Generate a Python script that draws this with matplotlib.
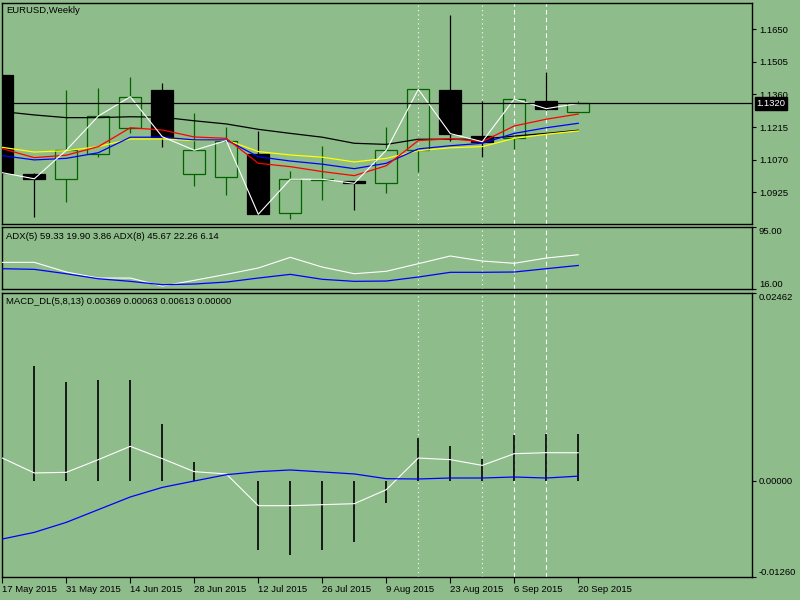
import numpy as np
import matplotlib
matplotlib.use('Agg')
import matplotlib.pyplot as plt
import matplotlib.transforms as mtransforms

bg = '#8fbc8b'
bull = '#006400'

dates = ['17 May 2015', '31 May 2015', '14 Jun 2015', '28 Jun 2015', '12 Jul 2015',
         '26 Jul 2015', '9 Aug 2015', '23 Aug 2015', '6 Sep 2015', '20 Sep 2015']

# weekly candles, bar 0 = 17 May 2015
opens  = [1.1447, 1.1006, 1.0983, 1.1097, 1.1210, 1.1380, 1.1005, 1.0992, 1.1095, 1.0832,
          1.0981, 1.0975, 1.0965, 1.1113, 1.1380, 1.1175, 1.1165, 1.1331, 1.1284]
highs  = [1.1447, 1.1012, 1.1380, 1.1389, 1.1437, 1.1411, 1.1276, 1.1214, 1.1196, 1.1020,
          1.1131, 1.0977, 1.1217, 1.1385, 1.1714, 1.1331, 1.1342, 1.1461, 1.1331]
lows   = [1.1012, 1.0816, 1.0883, 1.1083, 1.1187, 1.1128, 1.0954, 1.0914, 1.0827, 1.0808,
          1.0891, 1.0846, 1.0923, 1.1017, 1.1155, 1.1083, 1.1119, 1.1290, 1.1284]
closes = [1.1012, 1.0985, 1.1112, 1.1264, 1.1350, 1.1172, 1.1112, 1.1155, 1.0827, 1.0983,
          1.0983, 1.0965, 1.1112, 1.1383, 1.1186, 1.1150, 1.1340, 1.1297, 1.1320]

ma_black  = [1.1284, 1.1269, 1.1257, 1.1257, 1.1261, 1.1259, 1.1243, 1.1229, 1.1205, 1.1187,
             1.1170, 1.1143, 1.1138, 1.1161, 1.1161, 1.1162, 1.1175, 1.1187, 1.1201]
ma_red    = [1.1119, 1.1079, 1.1090, 1.1128, 1.1212, 1.1202, 1.1171, 1.1165, 1.1054, 1.1039,
             1.1017, 1.0999, 1.1043, 1.1155, 1.1163, 1.1150, 1.1220, 1.1250, 1.1273]
ma_blue   = [1.1088, 1.1069, 1.1076, 1.1101, 1.1170, 1.1170, 1.1158, 1.1158, 1.1083, 1.1064,
             1.1050, 1.1030, 1.1054, 1.1118, 1.1132, 1.1143, 1.1187, 1.1212, 1.1232]
ma_yellow = [1.1125, 1.1104, 1.1110, 1.1128, 1.1162, 1.1162, 1.1155, 1.1158, 1.1106, 1.1091,
             1.1081, 1.1060, 1.1076, 1.1110, 1.1123, 1.1128, 1.1165, 1.1183, 1.1198]

adx5 = [49.6, 49.6, 37.3, 29.6, 29.6, 19.4, 26.7, 34.3, 42.4, 56.0,
        43.6, 35.1, 38.2, 47.9, 57.7, 51.3, 48.4, 55.1, 59.33]
adx8 = [41.5, 40.7, 35.1, 28.7, 25.4, 21.1, 22.0, 24.5, 29.6, 34.3,
        28.0, 25.4, 25.8, 30.9, 36.9, 36.9, 37.3, 41.5, 45.67]

macd_hist = [0.0, 0.0151, 0.0130, 0.01316, 0.01316, 0.0075, 0.00252, 0.0, -0.00908, -0.00973,
             -0.00899, -0.00794, -0.00288, 0.00557, 0.00453, 0.00292, 0.00597, 0.00619, 0.00613]
macd_white = [0.0030, 0.00105, 0.00113, 0.00279, 0.00453, 0.00292, 0.00122, 0.00092, -0.00323, -0.00323,
              -0.0031, -0.00297, -0.00114, 0.0030, 0.00279, 0.00204, 0.00357, 0.0037, 0.00369]
macd_blue = [-0.00759, -0.00672, -0.00541, -0.00375, -0.00209, -0.00084, 0.0, 0.00082, 0.00122, 0.00144,
             0.00118, 0.00092, 0.0003, 0.00026, 0.00039, 0.00039, 0.00052, 0.00039, 0.00063]

dotted_bars = [13, 15]
dashed_bars = [16, 17]

x = np.arange(len(closes))
o, h, l, c = map(np.array, (opens, highs, lows, closes))

fs = 6.8
plt.rcParams['font.family'] = ['Liberation Sans', 'DejaVu Sans']
fig = plt.figure(figsize=(8, 6), dpi=100, facecolor=bg)
ax1 = fig.add_axes([0.0025, 0.6267, 0.9375, 0.3688])
ax2 = fig.add_axes([0.0025, 0.5188, 0.9375, 0.1033])
ax3 = fig.add_axes([0.0025, 0.0378, 0.9375, 0.4743])

for ax in (ax1, ax2, ax3):
    ax.set_facecolor(bg)
    ax.set_xlim(-0.01, 23.43)
    for s in ax.spines.values():
        s.set_color('black')
        s.set_linewidth(1.0)
    ax.yaxis.tick_right()
    ax.tick_params(axis='y', direction='out', length=3, width=0.8, labelsize=fs, pad=2, colors='black')
    for b in dotted_bars:
        ax.axvline(b, color='white', lw=0.8, ls=(0, (1, 3)), zorder=1)
    for b in dashed_bars:
        ax.axvline(b, color='white', lw=0.8, ls=(0, (4, 3)), zorder=1)

# candles
w = 0.69
up = c >= o
bt = np.maximum(o, c)
bb = np.minimum(o, c)
for i in x:
    col = bull if up[i] else 'black'
    if up[i]:
        ax1.vlines(i, bt[i], h[i], color=col, lw=0.9, zorder=2)
        ax1.vlines(i, l[i], bb[i], color=col, lw=0.9, zorder=2)
    else:
        ax1.vlines(i, l[i], h[i], color=col, lw=0.9, zorder=2)
ax1.bar(x[up], (c - o)[up], bottom=o[up], width=w, facecolor='none', edgecolor=bull, lw=0.9, zorder=3)
ax1.bar(x[~up], (o - c)[~up], bottom=c[~up], width=w, color='black', edgecolor='black', lw=0.9, zorder=3)

ax1.plot(x, ma_black, color='black', lw=0.9, zorder=4)
ax1.plot(x, ma_yellow, color='yellow', lw=0.9, zorder=4)
ax1.plot(x, ma_blue, color='blue', lw=0.9, zorder=4)
ax1.plot(x, ma_red, color='red', lw=0.9, zorder=4)
ax1.plot(x, closes, color='white', lw=0.8, zorder=5)
ax1.axhline(closes[-1], color='black', lw=0.9, zorder=6)

ax1.set_ylim(1.0784, 1.17683)
ax1.set_yticks([1.1650, 1.1505, 1.1360, 1.1215, 1.1070, 1.0925])
ax1.set_yticklabels(['1.1650', '1.1505', '1.1360', '1.1215', '1.1070', '1.0925'])
trans = mtransforms.blended_transform_factory(ax1.transAxes, ax1.transData)
ax1.text(1.006, closes[-1], '%.4f' % closes[-1], transform=trans, color='white', fontsize=fs,
         va='center', ha='left', zorder=10,
         bbox=dict(facecolor='black', edgecolor='black', pad=1.2))
ax1.text(0.0055, 0.985, 'EURUSD,Weekly', transform=ax1.transAxes, fontsize=fs, va='top', ha='left')

# ADX panel
ax2.plot(x, adx5, color='white', lw=0.8, zorder=3)
ax2.plot(x, adx8, color='blue', lw=0.9, zorder=3)
ax2.set_ylim(16, 95)
ax2.set_yticks([95, 16])
ax2.set_yticklabels(['95.00', '16.00'])
ax2.text(0.0055, 0.92, 'ADX(5) 59.33 19.90 3.86 ADX(8) 45.67 22.26 6.14', transform=ax2.transAxes,
         fontsize=fs, va='top', ha='left')

# MACD panel
ax3.vlines(x, 0, macd_hist, color='black', lw=1.2, zorder=3)
ax3.plot(x, macd_white, color='white', lw=0.8, zorder=4)
ax3.plot(x, macd_blue, color='blue', lw=0.9, zorder=4)
ax3.set_ylim(-0.0126, 0.02462)
ax3.set_yticks([0.02462, 0.0, -0.0126])
ax3.set_yticklabels(['0.02462', '0.00000', '-0.01260'])
ax3.text(0.0055, 0.985, 'MACD_DL(5,8,13) 0.00369 0.00063 0.00613 0.00000', transform=ax3.transAxes,
         fontsize=fs, va='top', ha='left')

# extreme labels of the lower panels sit inside the panel
for ax in (ax2, ax3):
    lbls = ax.get_yticklabels()
    lbls[0].set_va('top')
    lbls[-1].set_va('bottom')

for ax in (ax1, ax2):
    ax.set_xticks([])
ax3.set_xticks(x[::2])
ax3.set_xticklabels(dates, ha='left')
ax3.tick_params(axis='x', direction='out', length=4, width=0.8, labelsize=fs, pad=1.5, colors='black')

fig.savefig('out.png', dpi=100, facecolor=bg)
